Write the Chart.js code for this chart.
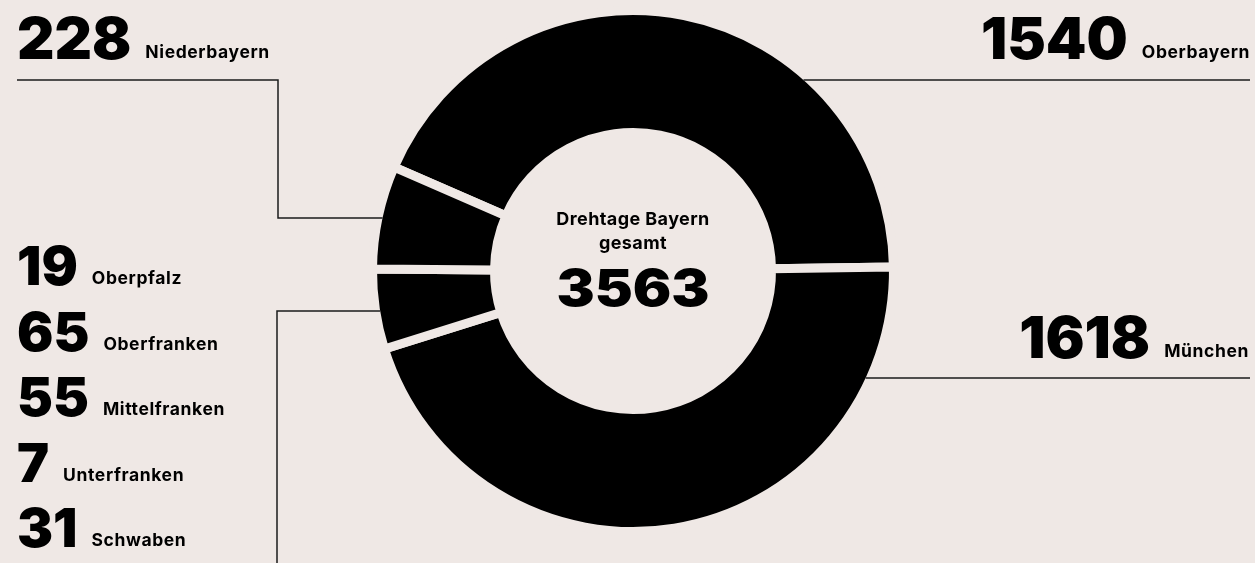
<!DOCTYPE html>
<html>
<head>
<meta charset="utf-8">
<script src="https://cdn.jsdelivr.net/npm/chart.js@4.4.1/dist/chart.umd.min.js"></script>
<style>
  html, body { margin: 0; padding: 0; background: #efe8e5; }
  #wrap { position: relative; width: 1255px; height: 563px; }
</style>
</head>
<body>
<div id="wrap"><canvas id="chDonut" width="1255" height="563"></canvas></div>
<script>
// data
var segmentLabels = ['Oberbayern', 'München', 'Übrige Bezirke', 'Niederbayern'];
var bigValues = [1540, 1618];
var nbValue = 228;
var smallLabels = ['Oberpfalz', 'Oberfranken', 'Mittelfranken', 'Unterfranken', 'Schwaben'];
var smallValues = [19, 65, 55, 7, 31];
var centerTitle = ['Drehtage Bayern', 'gesamt'];

var smallSum = smallValues.reduce(function (a, b) { return a + b; }, 0);
var segmentValues = [bigValues[0], bigValues[1], smallSum, nbValue];
var total = segmentValues.reduce(function (a, b) { return a + b; }, 0);

var bg = '#efe8e5';
var gap = 9;
var numFont = '"Inter", "Lato", sans-serif';
var labelSize = 17.5;

// helper: x where a horizontal line at y hits the outer ring
function edgeX(arc, y, side) {
    var r = arc.outerRadius - gap / 2;
    var dy = y - arc.y;
    return arc.x + side * Math.sqrt(Math.max(r * r - dy * dy, 0));
}

function setLabelFont(ctx) {
    ctx.font = '700 ' + labelSize + 'px ' + numFont;
    ctx.letterSpacing = '0.6px';
}
function setNumFont(ctx, size) {
    ctx.font = '900 ' + size + 'px ' + numFont;
    ctx.letterSpacing = '0px';
}

function numLabel(ctx, num, label, x, y, size, align) {
    ctx.textBaseline = 'alphabetic';
    ctx.textAlign = 'left';
    setNumFont(ctx, size);
    var nw = ctx.measureText(num).width;
    setLabelFont(ctx);
    var lw = ctx.measureText(label).width;
    var sp = 14;
    var x0 = align === 'right' ? x - lw - sp - nw : x;
    setNumFont(ctx, size);
    ctx.fillText(num, x0, y);
    setLabelFont(ctx);
    ctx.fillText(label, x0 + nw + sp, y - 1);
}

// leader lines and texts
var labelPlugin = {
    id: 'labelPlugin',
    afterDraw: function (chart) {
        var ctx = chart.ctx;
        var arcs = chart.getDatasetMeta(0).data;
        var a = arcs[0];
        ctx.save();
        ctx.strokeStyle = '#1b1b1b';
        ctx.lineWidth = 1.5;

        ctx.beginPath();
        ctx.moveTo(edgeX(a, 80, 1), 80);
        ctx.lineTo(1250, 80);
        ctx.moveTo(edgeX(a, 378, 1), 378);
        ctx.lineTo(1250, 378);
        ctx.moveTo(17, 80);
        ctx.lineTo(278, 80);
        ctx.lineTo(278, 218);
        ctx.lineTo(edgeX(a, 218, -1), 218);
        ctx.moveTo(277, 563);
        ctx.lineTo(277, 311);
        ctx.lineTo(edgeX(a, 311, -1), 311);
        ctx.stroke();

        ctx.fillStyle = '#000';
        numLabel(ctx, String(nbValue), segmentLabels[3], 17, 59, 58, 'left');
        numLabel(ctx, String(bigValues[0]), segmentLabels[0], 1250, 59, 58, 'right');
        numLabel(ctx, String(bigValues[1]), segmentLabels[1], 1249, 358, 58, 'right');

        for (var i = 0; i < smallValues.length; i++) {
            numLabel(ctx, String(smallValues[i]), smallLabels[i], 17, 285 + i * 65.5, 54, 'left');
        }

        ctx.textAlign = 'center';
        ctx.font = '700 18px ' + numFont;
        ctx.letterSpacing = '0.4px';
        ctx.fillText(centerTitle[0], a.x, 225);
        ctx.fillText(centerTitle[1], a.x, 249);

        // total, slightly widened
        setNumFont(ctx, 51);
        ctx.translate(a.x, 306);
        ctx.scale(1.12, 1);
        ctx.fillText(String(total), 0, 0);
        ctx.restore();
    }
};

var chDonut = document.getElementById('chDonut');
new Chart(chDonut, {
    type: 'doughnut',
    data: {
        labels: segmentLabels,
        datasets: [{
            data: segmentValues,
            backgroundColor: '#000',
            borderColor: bg,
            borderWidth: gap,
            hoverOffset: 0
        }]
    },
    options: {
        responsive: false,
        animation: false,
        rotation: 89.1 - bigValues[0] / total * 360,
        radius: 256 + gap / 2,
        cutout: 143 - gap / 2,
        layout: { padding: { left: 368, right: 357, top: 6, bottom: 27 } },
        plugins: {
            legend: { display: false },
            tooltip: { enabled: false }
        }
    },
    plugins: [labelPlugin]
});
</script>
</body>
</html>
